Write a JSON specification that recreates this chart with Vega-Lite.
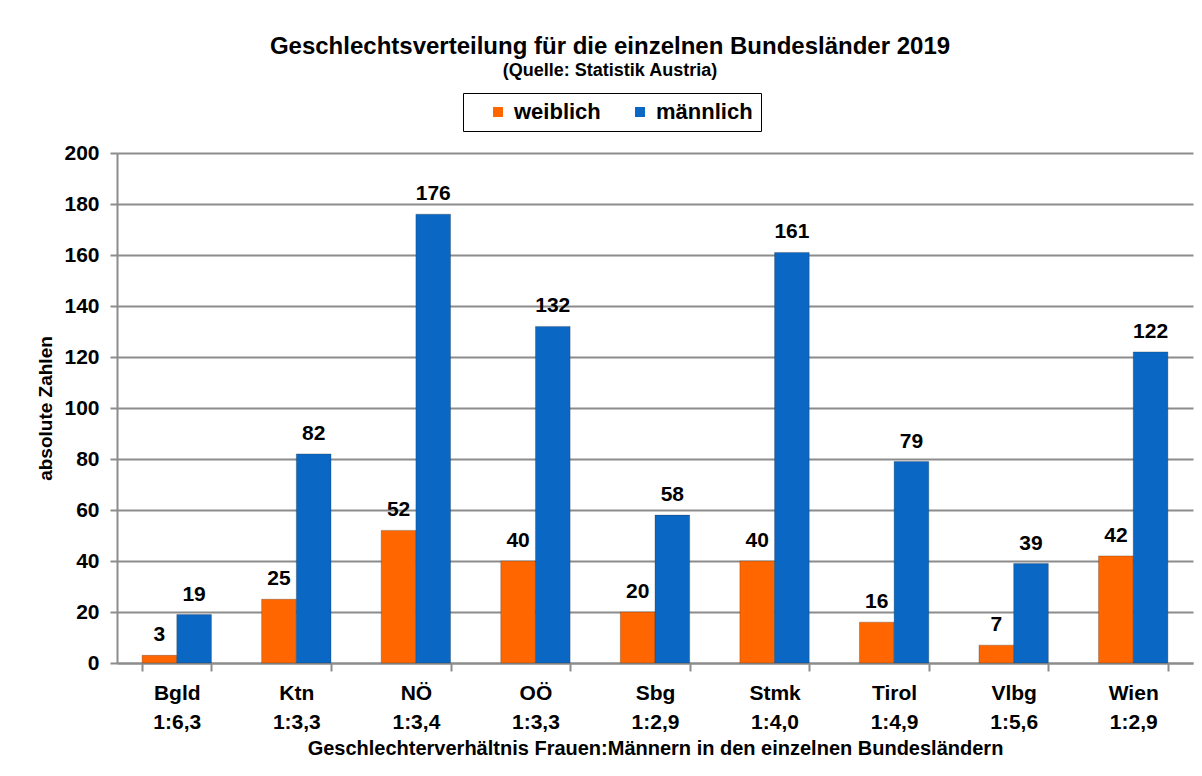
{
  "$schema": "https://vega.github.io/schema/vega-lite/v6.json",
  "width": 1076,
  "height": 510,
  "autosize": {"type": "none"},
  "padding": {"left": 117, "top": 153, "right": 9, "bottom": 113},
  "background": "white",
  "config": {
    "font": "Liberation Sans",
    "view": {"stroke": null}
  },
  "title": {
    "text": "Geschlechtsverteilung für die einzelnen Bundesländer 2019",
    "subtitle": "(Quelle: Statistik Austria)",
    "anchor": "middle",
    "frame": "group",
    "dx": -45,
    "offset": 13,
    "fontSize": 24,
    "fontWeight": "bold",
    "color": "black",
    "subtitleFontSize": 18,
    "subtitleFontWeight": "bold",
    "subtitleColor": "black",
    "subtitlePadding": 3
  },
  "data": {
    "values": [
      {"land": "Bgld|1:6,3", "geschlecht": "weiblich", "wert": 3},
      {"land": "Bgld|1:6,3", "geschlecht": "männlich", "wert": 19},
      {"land": "Ktn|1:3,3", "geschlecht": "weiblich", "wert": 25},
      {"land": "Ktn|1:3,3", "geschlecht": "männlich", "wert": 82},
      {"land": "NÖ|1:3,4", "geschlecht": "weiblich", "wert": 52},
      {"land": "NÖ|1:3,4", "geschlecht": "männlich", "wert": 176},
      {"land": "OÖ|1:3,3", "geschlecht": "weiblich", "wert": 40},
      {"land": "OÖ|1:3,3", "geschlecht": "männlich", "wert": 132},
      {"land": "Sbg|1:2,9", "geschlecht": "weiblich", "wert": 20},
      {"land": "Sbg|1:2,9", "geschlecht": "männlich", "wert": 58},
      {"land": "Stmk|1:4,0", "geschlecht": "weiblich", "wert": 40},
      {"land": "Stmk|1:4,0", "geschlecht": "männlich", "wert": 161},
      {"land": "Tirol|1:4,9", "geschlecht": "weiblich", "wert": 16},
      {"land": "Tirol|1:4,9", "geschlecht": "männlich", "wert": 79},
      {"land": "Vlbg|1:5,6", "geschlecht": "weiblich", "wert": 7},
      {"land": "Vlbg|1:5,6", "geschlecht": "männlich", "wert": 39},
      {"land": "Wien|1:2,9", "geschlecht": "weiblich", "wert": 42},
      {"land": "Wien|1:2,9", "geschlecht": "männlich", "wert": 122}
    ]
  },
  "encoding": {
    "x": {
      "field": "land",
      "type": "nominal",
      "sort": null,
      "scale": {"paddingInner": 0.42, "paddingOuter": 0.21},
      "axis": {
        "title": "Geschlechterverhältnis Frauen:Männern in den einzelnen Bundesländern",
        "titleFontSize": 20,
        "titleFontWeight": "bold",
        "titleColor": "black",
        "titlePadding": 6,
        "labelExpr": "datum.value ? split(datum.value, '|') : ''",
        "labelAngle": 0,
        "labelFontSize": 21,
        "labelFontWeight": "bold",
        "labelColor": "black",
        "labelLineHeight": 29,
        "labelPadding": 11,
        "labelOverlap": false,
        "tickBand": "extent",
        "tickSize": 8,
        "tickColor": "#8c8c8c",
        "tickWidth": 2,
        "domainColor": "#8c8c8c",
        "domainWidth": 2
      }
    },
    "xOffset": {"field": "geschlecht", "type": "nominal", "sort": ["weiblich", "männlich"]},
    "y": {
      "field": "wert",
      "type": "quantitative",
      "scale": {"domain": [0, 200]},
      "axis": {
        "title": "absolute Zahlen",
        "titleFontSize": 19,
        "titleFontWeight": "bold",
        "titleColor": "black",
        "titlePadding": 8,
        "values": [0, 20, 40, 60, 80, 100, 120, 140, 160, 180, 200],
        "labelOverlap": false,
        "labelFontSize": 21,
        "labelFontWeight": "bold",
        "labelColor": "black",
        "labelPadding": 11,
        "tickSize": 7,
        "tickColor": "#8c8c8c",
        "tickWidth": 2,
        "domainColor": "#8c8c8c",
        "domainWidth": 2,
        "gridColor": "#8c8c8c",
        "gridWidth": 2
      }
    },
    "color": {
      "field": "geschlecht",
      "type": "nominal",
      "sort": ["weiblich", "männlich"],
      "scale": {"domain": ["weiblich", "männlich"], "range": ["#FF6600", "#0A67C4"]},
      "legend": {
        "title": null,
        "orient": "none",
        "direction": "horizontal",
        "legendX": 346,
        "legendY": -60,
        "strokeColor": "black",
        "padding": 8,
        "symbolOffset": 16,
        "symbolType": "square",
        "symbolSize": 100,
        "symbolStrokeWidth": 0,
        "labelFontSize": 22,
        "labelFontWeight": "bold",
        "labelColor": "black",
        "labelOffset": 5,
        "columnPadding": 12
      }
    }
  },
  "layer": [
    {"mark": {"type": "bar", "stroke": "#333333", "strokeWidth": 0.5, "strokeOpacity": 0.6}},
    {
      "mark": {"type": "text", "baseline": "bottom", "dy": -10, "fontSize": 21, "fontWeight": "bold", "color": "black"},
      "encoding": {"text": {"field": "wert", "type": "quantitative"}, "color": {"value": "black"}}
    }
  ]
}
